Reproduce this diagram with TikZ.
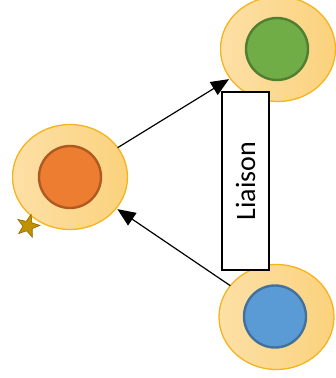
\documentclass[tikz,border=0pt]{standalone}
\usepackage{fontspec}
\setmainfont{Carlito}
\usetikzlibrary{shapes.geometric,arrows.meta}
\definecolor{cellfillL}{HTML}{FDE0A6}
\definecolor{cellfillR}{HTML}{FBD27D}
\definecolor{celldraw}{HTML}{F5B41E}
\definecolor{orangeF}{HTML}{ED7D31}
\definecolor{orangeD}{HTML}{AE5A21}
\definecolor{greenF}{HTML}{70AD47}
\definecolor{greenD}{HTML}{507E32}
\definecolor{blueF}{HTML}{5B9BD5}
\definecolor{blueD}{HTML}{41719C}
\definecolor{starF}{HTML}{C29000}
\definecolor{starD}{HTML}{8C6A00}
\tikzset{
  cell/.style={ellipse, minimum width=115pt, minimum height=105pt, inner sep=0pt, outer sep=0pt,
    draw=celldraw, line width=1.3pt, left color=cellfillL, right color=cellfillR},
  nucleus/.style={circle, minimum size=62pt, inner sep=0pt, line width=2.4pt},
  link/.style={line width=1.2pt, shorten >=1.5pt, -{Triangle[length=18pt,width=15pt]}},
  labelbox/.style={draw=black, line width=1.6pt, fill=white, minimum width=47pt, minimum height=178pt, inner sep=0pt}
}
\begin{document}
\begin{tikzpicture}[x=1pt,y=-1pt]
\useasboundingbox (0,0) rectangle (336,378);
\node[cell] (cL) at (70,177) {};
\node[cell] (cT) at (278,49) {};
\node[cell] (cB) at (276.5,317) {};
\node[nucleus, fill=orangeF, draw=orangeD] (nL) at (70,177) {};
\node[nucleus, fill=greenF, draw=greenD] (nT) at (277,49) {};
\node[nucleus, fill=blueF, draw=blueD] (nB) at (275,316.5) {};
\node[star, star points=5, star point ratio=2.4, minimum size=24pt, inner sep=0pt, fill=starF, draw=starD, line width=0.6pt, rotate=-15] (st) at (28,226) {};
\draw[link] (cL) -- (cT);
\draw[link] (cB) -- (cL);
\node[labelbox] (box) at (245.5,181) {};
\node[rotate=90, font=\fontsize{28}{32}\selectfont] (lbl) at (box.center) {Liaison};
\end{tikzpicture}
\end{document}
